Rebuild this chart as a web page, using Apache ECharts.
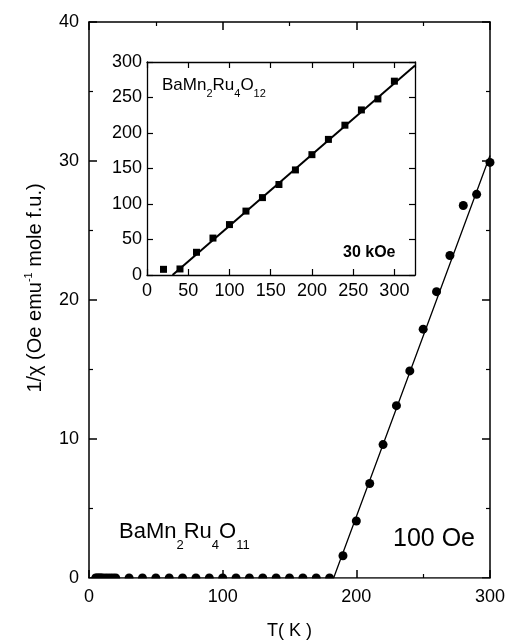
<!DOCTYPE html>
<html>
<head>
<meta charset="utf-8">
<script src="https://cdn.jsdelivr.net/npm/echarts@6/dist/echarts.min.js"></script>
<style>
  html, body { margin: 0; padding: 0; background: #fff; }
  #chart { width: 509px; height: 644px; }
</style>
</head>
<body>
<div id="chart"></div>
<script>
// main plot: 1/chi at 100 Oe
const mainT = [5, 6, 7, 8, 9, 10, 12, 14, 16, 18, 20,
  30, 40, 50, 60, 70, 80, 90, 100, 110, 120, 130, 140, 150, 160, 170, 180,
  190, 200, 210, 220, 230, 240, 250, 260, 270, 280, 290, 300]
const mainInvChi = [0, 0, 0, 0, 0, 0, 0, 0, 0, 0, 0,
  0, 0, 0, 0, 0, 0, 0, 0, 0, 0, 0, 0, 0, 0, 0, 0,
  1.6, 4.1, 6.8, 9.6, 12.4, 14.9, 17.9, 20.6, 23.2, 26.8, 27.6, 29.9]
const mainFitT = [183, 240, 300]
const mainFitY = [0, 14.8, 30.4]

// inset: 1/chi at 30 kOe
const insetT = [20, 40, 60, 80, 100, 120, 140, 160, 180, 200, 220, 240, 260, 280, 300]
const insetInvChi = [8, 8.5, 32, 52, 71, 90, 109, 127.5, 148, 169.5, 191, 211, 232.5, 248, 273]
const insetFitT = [31, 325]
const insetFitY = [0, 295]

const font = 'Liberation Sans, Arial, sans-serif'
const black = '#000'

const zip = (xs, ys) => xs.map((x, i) => [x, ys[i]])

const chart = echarts.init(document.getElementById('chart'), null, { renderer: 'canvas' })

const frameAxis = (extra) => Object.assign({
  type: 'value',
  splitLine: { show: false },
  axisLine: { show: true, onZero: false, lineStyle: { color: black, width: 1.5 } },
  axisTick: { show: true, inside: true, length: 8, lineStyle: { color: black, width: 1.5 } },
  axisLabel: { color: black, fontSize: 18, fontFamily: font, margin: 10 }
}, extra)

const mainX = { gridIndex: 0, min: 0, max: 300, interval: 100,
  minorTick: { show: true, splitNumber: 2, length: 4, lineStyle: { color: black, width: 1.2 } } }
const mainY = { gridIndex: 0, min: 0, max: 40, interval: 10,
  minorTick: { show: true, splitNumber: 2, length: 4, lineStyle: { color: black, width: 1.2 } } }
const insetX = { gridIndex: 1, min: 0, max: 325, interval: 50 }
const insetY = { gridIndex: 1, min: 0, max: 300, interval: 50 }
const insetTick = { show: true, inside: true, length: 6, lineStyle: { color: black, width: 1.2 } }
const insetLine = { show: true, onZero: false, lineStyle: { color: black, width: 1.3 } }

const txt = (size, extra) => Object.assign({ fontSize: size, fontWeight: 'normal', color: black, fontFamily: font }, extra)

const option = {
  backgroundColor: '#fff',
  animation: false,
  textStyle: { fontFamily: font, color: black },
  grid: [
    { left: 89, right: 19, top: 22, bottom: 66, outerBoundsMode: 'none' },
    { left: 147, right: 94, top: 62, bottom: 369, outerBoundsMode: 'none' }
  ],
  title: [
    {
      text: '{m|BaMn}{s|2}{m|Ru}{s|4}{m|O}{s|11}',
      left: 119, top: 521, padding: 0,
      textStyle: { fontWeight: 'normal', rich: {
        m: txt(22, { lineHeight: 24, verticalAlign: 'top' }),
        s: txt(13, { lineHeight: 12, padding: [18, 0, 0, 0], verticalAlign: 'top' })
      } }
    },
    {
      text: '100 Oe', left: 393, top: 527, padding: 0,
      textStyle: txt(25, { lineHeight: 25 })
    },
    {
      text: '{m|BaMn}{s|2}{m|Ru}{s|4}{m|O}{s|12}',
      left: 162, top: 77, padding: 0,
      textStyle: { fontWeight: 'normal', rich: {
        m: txt(17, { lineHeight: 18, verticalAlign: 'top' }),
        s: txt(11, { lineHeight: 10, padding: [11, 0, 0, 0], verticalAlign: 'top' })
      } }
    },
    {
      text: '30 kOe', left: 343, top: 245, padding: 0,
      textStyle: txt(16, { lineHeight: 16, fontWeight: 'bold' })
    }
  ],
  xAxis: [
    frameAxis(Object.assign({}, mainX, {
      position: 'bottom',
      name: 'T( K )', nameLocation: 'middle', nameGap: 44,
      nameTextStyle: txt(18)
    })),
    frameAxis(Object.assign({}, mainX, { position: 'top', axisLabel: { show: false } })),
    frameAxis(Object.assign({}, insetX, {
      position: 'bottom', axisTick: insetTick, axisLine: insetLine,
      axisLabel: { color: black, fontSize: 18, fontFamily: font, margin: 7, showMaxLabel: false }
    })),
    frameAxis(Object.assign({}, insetX, { position: 'top', axisTick: insetTick, axisLine: insetLine, axisLabel: { show: false } }))
  ],
  yAxis: [
    frameAxis(Object.assign({}, mainY, {
      position: 'left',
      name: '{m|1/χ (Oe emu}{p|-1}{m| mole f.u.)}',
      nameLocation: 'middle', nameGap: 44, nameRotate: 90,
      nameTextStyle: { padding: [0, 0, 0, 24], rich: {
        m: txt(20, { lineHeight: 22, verticalAlign: 'bottom' }),
        p: txt(11, { lineHeight: 11, verticalAlign: 'top' })
      } }
    })),
    frameAxis(Object.assign({}, mainY, { position: 'right', axisLabel: { show: false } })),
    frameAxis(Object.assign({}, insetY, {
      position: 'left', axisTick: insetTick, axisLine: insetLine,
      axisLabel: { color: black, fontSize: 18, fontFamily: font, margin: 5 }
    })),
    frameAxis(Object.assign({}, insetY, { position: 'right', axisTick: insetTick, axisLine: insetLine, axisLabel: { show: false } }))
  ],
  series: [
    {
      type: 'line', xAxisIndex: 0, yAxisIndex: 0,
      data: zip(mainFitT, mainFitY), symbol: 'none',
      lineStyle: { color: black, width: 1.3 }, z: 2
    },
    {
      type: 'scatter', xAxisIndex: 0, yAxisIndex: 0,
      data: zip(mainT, mainInvChi), symbol: 'circle', symbolSize: 9,
      itemStyle: { color: black, opacity: 1 }, z: 3
    },
    {
      type: 'line', xAxisIndex: 2, yAxisIndex: 2,
      data: zip(insetFitT, insetFitY), symbol: 'none',
      lineStyle: { color: black, width: 2 }, z: 2
    },
    {
      type: 'scatter', xAxisIndex: 2, yAxisIndex: 2,
      data: zip(insetT, insetInvChi), symbol: 'rect', symbolSize: 7,
      itemStyle: { color: black, opacity: 1 }, z: 3
    }
  ]
}

chart.setOption(option)

// hide the lower half of the points sitting on the T axis, like the clipped original
const p0 = chart.convertToPixel({ xAxisIndex: 0, yAxisIndex: 0 }, [0, 0])
const p1 = chart.convertToPixel({ xAxisIndex: 0, yAxisIndex: 0 }, [300, 0])
chart.setOption({
  graphic: [{
    type: 'rect', z: 100,
    shape: { x: p0[0] - 6, y: p0[1] + 0.8, width: p1[0] - p0[0] + 12, height: 6 },
    style: { fill: '#fff' }
  }]
})
</script>
</body>
</html>
